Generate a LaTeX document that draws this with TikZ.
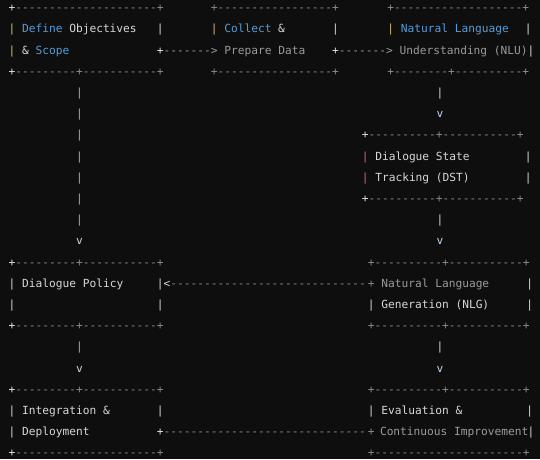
\documentclass[tikz,border=0pt]{standalone}
\usepackage{fontspec}
\setmonofont{DejaVu Sans Mono}
\definecolor{bgc}{HTML}{0E0E0E}
\definecolor{bd}{HTML}{8A8A8A}
\definecolor{lt}{HTML}{E0E0E0}
\definecolor{kw}{HTML}{569CD6}
\definecolor{tx}{HTML}{D8D8D8}
\definecolor{gy}{HTML}{9A9A9A}
\definecolor{py}{HTML}{D7BA7D}
\definecolor{pr}{HTML}{E06464}
\definecolor{ps}{HTML}{D49A88}
\definecolor{vv}{HTML}{C4DAEE}
\tikzset{ascii/.style={anchor=base west,inner sep=0pt,outer sep=0pt,font=\ttfamily\fontsize{11.2}{13}\selectfont}}
\newcommand\asc[5]{\node[ascii,text=#4] (#1) at ({12+6.74*(#2)-3.37},{8.3+21.2*(#3)+3.3}) {#5};}
\begin{document}
\begin{tikzpicture}[x=1pt,y=-1pt]
\fill[bgc] (0,0) rectangle (540,459);
\useasboundingbox (0,0) rectangle (540,459);
% row 0
\asc{r0a}{0}{0}{lt}{+}
\asc{r0b}{1}{0}{bd}{---------------------+}
\asc{r0c}{30}{0}{bd}{+-----------------+}
\asc{r0d}{56.2}{0}{bd}{+-------------------+}
% row 1
\asc{r1a}{0}{1}{py}{|}
\asc{r1b}{2}{1}{kw}{Define}
\asc{r1c}{9}{1}{tx}{Objectives}
\asc{r1d}{22}{1}{tx}{|}
\asc{r1e}{30}{1}{py}{|}
\asc{r1f}{32}{1}{kw}{Collect}
\asc{r1g}{40}{1}{tx}{\&}
\asc{r1h}{48}{1}{tx}{|}
\asc{r1i}{56.2}{1}{py}{|}
\asc{r1j}{58.2}{1}{kw}{Natural Language}
\asc{r1k}{76.6}{1}{tx}{|}
% row 2
\asc{r2a}{0}{2}{py}{|}
\asc{r2b}{2}{2}{tx}{\&}
\asc{r2c}{4}{2}{kw}{Scope}
\asc{r2d}{22}{2}{lt}{+}
\asc{r2e}{23}{2}{gy}{-------> Prepare Data}
\asc{r2f}{48}{2}{lt}{+}
\asc{r2g}{49}{2}{gy}{-------> Understanding (NLU)}
\asc{r2h}{77}{2}{tx}{|}
% row 3
\asc{r3a}{0}{3}{lt}{+}
\asc{r3b}{1}{3}{bd}{---------+-----------+}
\asc{r3c}{30}{3}{bd}{+-----------------+}
\asc{r3d}{56.2}{3}{bd}{+--------+----------+}
% left connector rows 4-11
\asc{l4}{10}{4}{ps}{|}
\asc{l5}{10}{5}{ps}{|}
\asc{l6}{10}{6}{ps}{|}
\asc{l7}{10}{7}{ps}{|}
\asc{l8}{10}{8}{ps}{|}
\asc{l9}{10}{9}{ps}{|}
\asc{l10}{10}{10}{ps}{|}
\asc{l11}{10}{11}{vv}{v}
% right connector and DST
\asc{q4}{63.5}{4}{tx}{|}
\asc{q5}{63.5}{5}{vv}{v}
\asc{r6a}{52.4}{6}{lt}{+}
\asc{r6b}{53.4}{6}{bd}{----------+-----------+}
\asc{r7a}{52.4}{7}{pr}{|}
\asc{r7b}{54.4}{7}{tx}{Dialogue State}
\asc{r7c}{76.6}{7}{tx}{|}
\asc{r8a}{52.4}{8}{pr}{|}
\asc{r8b}{54.4}{8}{tx}{Tracking (DST)}
\asc{r8c}{76.6}{8}{tx}{|}
\asc{r9a}{52.4}{9}{lt}{+}
\asc{r9b}{53.4}{9}{bd}{----------+-----------+}
\asc{q10}{63.5}{10}{tx}{|}
\asc{q11}{63.5}{11}{vv}{v}
% row 12
\asc{r12a}{0}{12}{lt}{+}
\asc{r12b}{1}{12}{bd}{---------+-----------+}
\asc{r12c}{53.3}{12}{bd}{+----------+-----------+}
% row 13
\asc{r13a}{0}{13}{tx}{|}
\asc{r13b}{2}{13}{tx}{Dialogue Policy}
\asc{r13c}{22}{13}{tx}{|}
\asc{r13d}{23}{13}{tx}{<}
\asc{r13e}{24}{13}{bd}{-----------------------------}
\asc{r13f}{53.3}{13}{bd}{+}
\asc{r13g}{55.3}{13}{gy}{Natural Language}
\asc{r13h}{76.8}{13}{tx}{|}
% row 14
\asc{r14a}{0}{14}{tx}{|}
\asc{r14b}{22}{14}{tx}{|}
\asc{r14c}{53.3}{14}{tx}{|}
\asc{r14d}{55.3}{14}{tx}{Generation (NLG)}
\asc{r14e}{76.8}{14}{tx}{|}
% row 15
\asc{r15a}{0}{15}{lt}{+}
\asc{r15b}{1}{15}{bd}{---------+-----------+}
\asc{r15c}{53.3}{15}{bd}{+----------+-----------+}
% rows 16-17
\asc{l16}{10}{16}{ps}{|}
\asc{l17}{10}{17}{vv}{v}
\asc{q16}{63.5}{16}{tx}{|}
\asc{q17}{63.5}{17}{vv}{v}
% row 18
\asc{r18a}{0}{18}{lt}{+}
\asc{r18b}{1}{18}{bd}{---------+-----------+}
\asc{r18c}{53.3}{18}{bd}{+----------+-----------+}
% row 19
\asc{r19a}{0}{19}{tx}{|}
\asc{r19b}{2}{19}{tx}{Integration \&}
\asc{r19c}{22}{19}{tx}{|}
\asc{r19d}{53.3}{19}{tx}{|}
\asc{r19e}{55.3}{19}{tx}{Evaluation \&}
\asc{r19f}{76.8}{19}{tx}{|}
% row 20
\asc{r20a}{0}{20}{tx}{|}
\asc{r20b}{2}{20}{tx}{Deployment}
\asc{r20c}{22}{20}{lt}{+}
\asc{r20d}{23}{20}{bd}{------------------------------}
\asc{r20e}{53.3}{20}{bd}{+}
\asc{r20f}{55.1}{20}{gy}{Continuous Improvement}
\asc{r20g}{77}{20}{tx}{|}
% row 21
\asc{r21a}{0}{21}{lt}{+}
\asc{r21b}{1}{21}{bd}{---------------------+}
\asc{r21c}{53.3}{21}{bd}{+----------------------+}
\end{tikzpicture}
\end{document}
